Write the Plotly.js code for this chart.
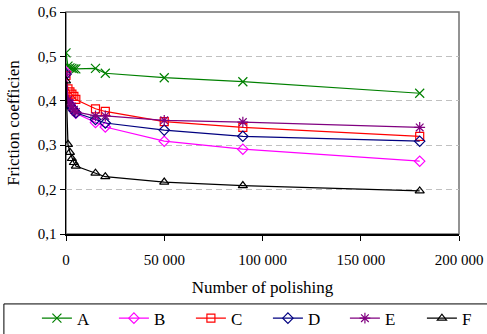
<!DOCTYPE html>
<html>
<head>
<meta charset="utf-8">
<script src="https://cdn.plot.ly/plotly-3.0.1.min.js"></script>
<style>html,body{margin:0;padding:0;background:#fff;}#chart{width:487px;height:334px;}</style>
</head>
<body>
<div id="chart"></div>
<script>
// Number of polishing (x values)
const polishing = [0, 1000, 2000, 3000, 4000, 5000, 15000, 20000, 50000, 90000, 180000];
// Friction coefficient per series
const seriesNames = ["A", "B", "C", "D", "E", "F"];
const valuesA = [0.508, 0.478, 0.474, 0.473, 0.472, 0.472, 0.473, 0.462, 0.452, 0.443, 0.417];
const valuesB = [0.465, 0.400, 0.392, 0.385, 0.378, 0.372, 0.351, 0.341, 0.309, 0.291, 0.264];
const valuesC = [0.457, 0.427, 0.420, 0.415, 0.410, 0.403, 0.382, 0.376, 0.353, 0.340, 0.320];
const valuesD = [0.460, 0.395, 0.390, 0.384, 0.378, 0.373, 0.358, 0.350, 0.334, 0.320, 0.309];
const valuesE = [0.460, 0.402, 0.394, 0.387, 0.380, 0.375, 0.366, 0.366, 0.356, 0.352, 0.340];
const valuesF = [0.445, 0.302, 0.284, 0.270, 0.261, 0.253, 0.237, 0.229, 0.217, 0.209, 0.197];
const xTickVals = [0, 50000, 100000, 150000, 200000];
const yTickVals = [0.1, 0.2, 0.3, 0.4, 0.5, 0.6];

const allValues = [valuesA, valuesB, valuesC, valuesD, valuesE, valuesF];
const colors = ["#008000", "#FF00FF", "#FF0000", "#000080", "#800080", "#000000"];
const symbols = ["x-thin-open", "diamond-open", "square-open", "diamond-open", "asterisk-open", "triangle-up-open"];
const sizes = [9, 8, 8, 8, 9, 8];

const traces = seriesNames.map((name, i) => ({
  type: "scatter",
  mode: "lines+markers",
  name: name,
  x: polishing,
  y: allValues[i],
  line: {color: colors[i], width: 1.2},
  marker: {symbol: symbols[i], size: sizes[i], color: colors[i], line: {color: colors[i], width: 1.2}}
}));

const serifFamily = "Liberation Serif";
const layout = {
  width: 487, height: 334,
  margin: {l: 66, r: 28, t: 12, b: 100, autoexpand: false},
  paper_bgcolor: "#fff", plot_bgcolor: "#fff",
  separators: ", ",
  font: {family: serifFamily, size: 15, color: "#000"},
  showlegend: true,
  legend: {
    orientation: "h", x: -0.074, xanchor: "left", y: -0.30, yanchor: "top",
    borderwidth: 0, bgcolor: "rgba(0,0,0,0)", font: {family: serifFamily, size: 17, color: "#000"},
    entrywidth: 32, traceorder: "normal"
  },
  xaxis: {
    range: [0, 200000], tickvals: xTickVals, tickformat: ",d",
    showline: true, linecolor: "#000", linewidth: 1.5,
    ticks: "outside", ticklen: 5, tickcolor: "#000",
    showgrid: false, zeroline: false,
    ticklabelstandoff: 6,
    tickfont: {family: serifFamily, size: 15, color: "#000"},
    title: {text: "Number of polishing", font: {family: serifFamily, size: 17, color: "#000"}, standoff: 14}
  },
  yaxis: {
    range: [0.1, 0.6], tickvals: yTickVals, tickformat: ".1f",
    showline: true, linecolor: "#000", linewidth: 1.5,
    ticks: "outside", ticklen: 5, tickcolor: "#000",
    showgrid: true, gridcolor: "#c0c0c0", griddash: "6px,4px", gridwidth: 1,
    zeroline: false,
    tickfont: {family: serifFamily, size: 15, color: "#000"},
    title: {text: "Friction coefficien", font: {family: serifFamily, size: 17, color: "#000"}, standoff: 14}
  },
  shapes: [{
    type: "rect", xref: "paper", yref: "paper", x0: 0, x1: 1, y0: 0, y1: 1,
    line: {color: "#707070", width: 1.5}, layer: "below"
  }, {
    type: "rect", xref: "paper", yref: "paper", x0: -0.158, x1: 1.2, y0: -0.6, y1: -0.315,
    line: {color: "#000", width: 1}, layer: "above"
  }]
};

Plotly.newPlot("chart", traces, layout, {staticPlot: true, displayModeBar: false});
</script>
</body>
</html>
